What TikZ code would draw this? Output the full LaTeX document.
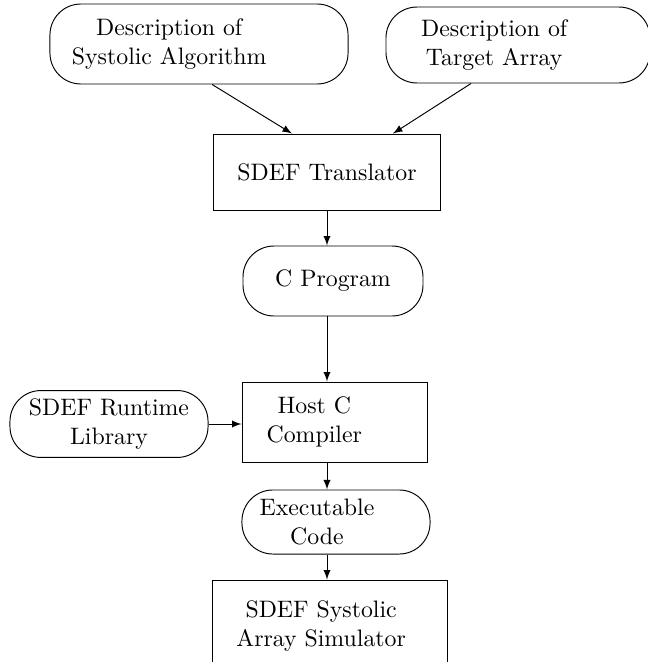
\documentclass[tikz,border=0pt]{standalone}
\usetikzlibrary{arrows}

\tikzset{
    proc/.style={draw, rectangle, align=center},
    data/.style={draw, rectangle, rounded corners=13pt, align=center},
}

\begin{document}
\begin{tikzpicture}[x=0.42pt, y=-0.42pt, >=latex]
            \useasboundingbox (0,0) rectangle (648,662);
            % inputs
            \node[data, minimum width=125.2pt, minimum height=33.6pt](alg) at (199,44)
                {Description of\hspace*{25pt}\\Systolic Algorithm\hspace*{25pt}};
            \node[data, minimum width=110.9pt, minimum height=31.9pt](arr) at (518,45)
                {Description of\hspace*{20pt}\\Target Array\hspace*{20pt}};
            \node[proc, minimum width=95.3pt, minimum height=31.9pt](trans) at (327,172) {SDEF Translator};
            \node[data, minimum width=75.6pt, minimum height=29.4pt](cprog) at (333,281) {C Program};
            \node[proc, minimum width=77.7pt, minimum height=33.6pt](host) at (334.5,422)
                {Host C\hspace*{17pt}\\Compiler\hspace*{17pt}};
            \node[data, minimum width=83.2pt, minimum height=28.1pt](lib) at (109,424)
                {SDEF Runtime\\Library};
            \node[data, minimum width=79pt, minimum height=26.9pt](exe) at (336,522)
                {Executable\hspace*{16pt}\\Code\hspace*{16pt}};
            \node[proc, minimum width=98.7pt, minimum height=38.6pt](sim) at (329.5,626)
                {SDEF Systolic\hspace*{7pt}\\Array Simulator\hspace*{7pt}};
            % connectors
            \draw[->] ([xshift=5.5pt]alg.south) -- ([xshift=-14.7pt]trans.north);
            \draw[->] ([xshift=-19.7pt]arr.south) -- ([xshift=27.7pt]trans.north);
            \draw[->] (trans.south) -- (cprog.north -| trans.south);
            \draw[->] (cprog.south -| trans.south) -- (host.north -| trans.south);
            \draw[->] (lib.east) -- (lib.east -| host.west);
            \draw[->] (host.south -| trans.south) -- (exe.north -| trans.south);
            \draw[->] (exe.south -| trans.south) -- (sim.north -| trans.south);
\end{tikzpicture}
\end{document}
